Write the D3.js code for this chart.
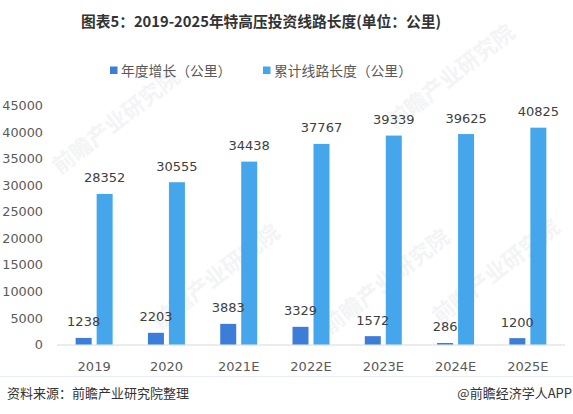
<!DOCTYPE html>
<html><head><meta charset="utf-8">
<script src="https://cdn.jsdelivr.net/npm/d3@7"></script>
<style>body{margin:0;background:#fff}svg{display:block}</style>
</head><body>
<script>
const categories = ["2019","2020","2021E","2022E","2023E","2024E","2025E"];
const seriesNames = ["年度增长（公里）","累计线路长度（公里）"];
const annualGrowth = [1238,2203,3883,3329,1572,286,1200];
const cumulativeLength = [28352,30555,34438,37767,39339,39625,40825];
const yTicks = [0,5000,10000,15000,20000,25000,30000,35000,40000,45000];
const titleText = "图表5：2019-2025年特高压投资线路长度(单位：公里)";
const sourceText = "资料来源：前瞻产业研究院整理";
const brandText = "@前瞻经济学人APP";
const colors = ["#3c7dd7","#46a6eb"];

const W=573,H=414;
const svg=d3.select("body").append("svg").attr("width",W).attr("height",H);
svg.append("rect").attr("width",W).attr("height",H).attr("fill","#fff");

// watermarks
const wm=[[60,175],[160,330],[330,335],[395,130],[440,325]];
wm.forEach(([x,y])=>{
  svg.append("text").attr("transform",`translate(${x},${y}) rotate(-38)`)
    .attr("font-family","Noto Sans CJK SC").attr("font-size",22).attr("font-weight","bold")
    .attr("fill","#f3f4f6").text("前瞻产业研究院");
});

const font="DejaVu Sans";
const x=d3.scaleBand().domain(categories).range([58,564]);
const x1=d3.scaleBand().domain([0,1]).range([-18.5,18.5]).paddingInner(0.238);
const y=d3.scaleLinear().domain([0,45000]).range([344.5,105.5]);

// title
svg.append("text").attr("x",81).attr("y",27).attr("font-family","Noto Sans CJK SC")
  .attr("font-weight","bold").attr("font-size",15).attr("fill","#333")
  .attr("textLength",360).attr("lengthAdjust","spacingAndGlyphs").text(titleText);

// legend
const legX=[110,263];
seriesNames.forEach((n,i)=>{
  svg.append("rect").attr("x",legX[i]).attr("y",66.5).attr("width",7.5).attr("height",7.5).attr("fill",colors[i]);
  svg.append("text").attr("x",legX[i]+11).attr("y",75.5).attr("font-family","Noto Sans CJK SC")
    .attr("font-size",13.8).attr("fill","#595959").text(n);
});

// y axis labels
const yAxis=d3.axisLeft(y).tickValues(yTicks).tickFormat(d3.format("d")).tickSize(0).tickPadding(0);
const ga=svg.append("g").attr("transform","translate(43,0)").call(yAxis);
ga.select(".domain").remove();
ga.selectAll("text").attr("font-family",font).attr("font-size",12.8).attr("fill","#595959");

// x axis
const xAxis=d3.axisBottom(x).tickSize(0).tickPadding(0);
const gx=svg.append("g").attr("transform",`translate(0,${y(0)})`).call(xAxis);
gx.select(".domain").attr("stroke","#d9d9d9").attr("d","M57,0.5H565");
gx.selectAll("text").attr("font-family",font).attr("font-size",13).attr("fill","#595959")
  .attr("dy",0).attr("y",26);

// bars
const series=[annualGrowth,cumulativeLength];
const gb=svg.append("g"), gl=svg.append("g");
series.forEach((arr,s)=>{
  gb.selectAll(".b"+s).data(arr).join("rect").attr("class","b"+s)
    .attr("x",(d,i)=>x(categories[i])+x.bandwidth()/2+x1(s))
    .attr("width",x1.bandwidth())
    .attr("y",d=>y(d)).attr("height",d=>y(0)-y(d)).attr("fill",colors[s]);
  gl.selectAll(".l"+s).data(arr).join("text").attr("class","l"+s)
    .attr("x",(d,i)=>x(categories[i])+x.bandwidth()/2+x1(s)+x1.bandwidth()/2)
    .attr("y",d=>y(d)-11.5).attr("text-anchor","middle")
    .attr("font-family",font).attr("font-size",13).attr("fill","#404040").text(d=>d);
});

// separator & footer
svg.append("line").attr("x1",0).attr("x2",W).attr("y1",376.5).attr("y2",376.5).attr("stroke","#e8eef4");
svg.append("text").attr("x",7).attr("y",398).attr("font-family","Noto Sans CJK SC")
  .attr("font-size",13).attr("fill","#333").text(sourceText);
svg.append("text").attr("x",572).attr("y",398).attr("text-anchor","end").attr("font-family","Noto Sans CJK SC")
  .attr("font-size",13).attr("fill","#333").text(brandText);
</script>
</body></html>
